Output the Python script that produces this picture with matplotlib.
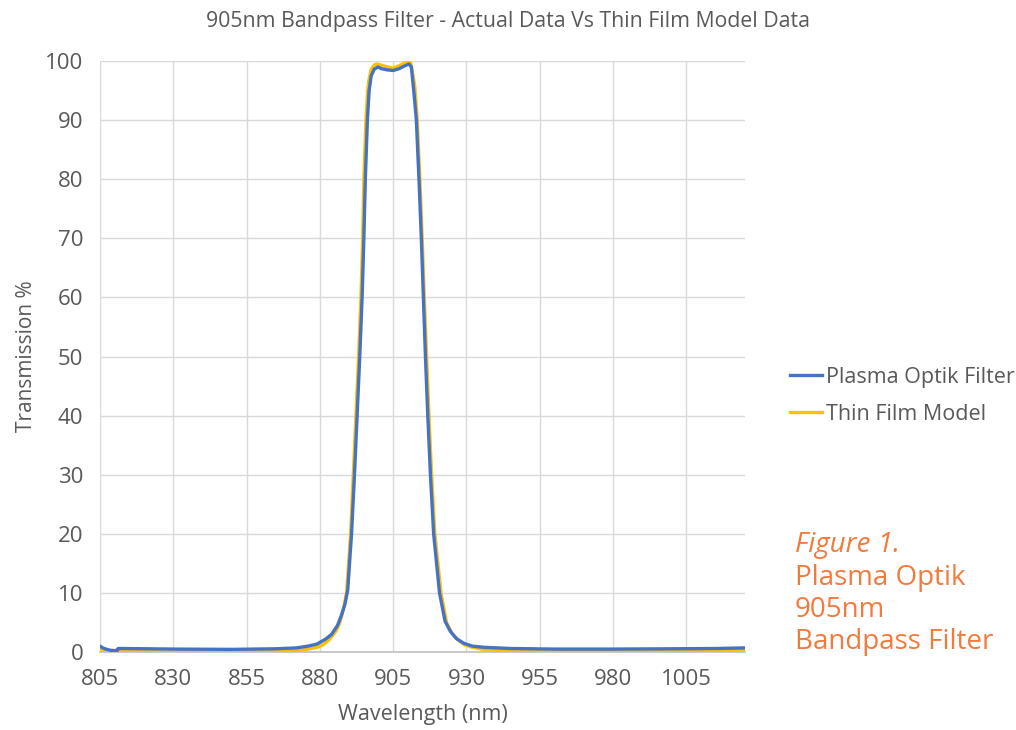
import numpy as np
import matplotlib
matplotlib.use("Agg")
import matplotlib.pyplot as plt

plt.rcParams['font.family'] = ['Open Sans', 'DejaVu Sans']

# 测量数据 (Plasma Optik Filter)
wl_filter = [805, 806, 807, 808.5, 810, 811, 811.2, 812, 830, 850, 865, 872, 876, 879,
             882, 884, 886, 887.2, 888.5, 889.5, 890.8, 891.8, 892.7, 893.6, 894.4,
             895.0, 895.5, 896.2, 896.8, 897.5, 898.5, 899.8, 901, 903, 905, 907, 909,
             910.4, 911.2, 911.6, 912.2, 912.9, 913.8, 914.6, 915.3, 916.0, 916.8,
             917.7, 918.8, 920.8, 922.7, 924.5, 926.5, 929, 932, 936, 945, 960, 980,
             1000, 1015, 1025]
t_filter = [1.0, 0.7, 0.5, 0.3, 0.25, 0.3, 0.6, 0.6, 0.5, 0.45, 0.55, 0.7, 1.0, 1.35,
            2.2, 3.0, 4.5, 6, 8, 10.5, 20, 30, 40, 50, 60,
            70, 80, 90, 95, 97.5, 98.6, 99.0, 98.7, 98.5, 98.4, 98.7, 99.2,
            99.5, 99.0, 97, 94, 90, 80, 70, 60, 50, 40,
            30, 20, 10, 5.2, 3.5, 2.3, 1.5, 1.0, 0.8, 0.6, 0.5, 0.5,
            0.55, 0.6, 0.7]

# 薄膜模型数据 (Thin Film Model)
wl_model = [805, 808, 812, 820, 840, 860, 870, 875, 879, 881, 883, 885.7, 886.8, 888,
            889.1, 890.5, 891.4, 892.3, 893.2, 894.0, 894.6, 895.0, 895.7, 896.3,
            896.8, 897.5, 898.5, 899.3, 901, 903, 905, 907, 909, 910.1, 911, 911.8,
            912.4, 913.2, 914.1, 914.9, 915.6, 916.4, 917.2, 918.1, 919.2, 921.3,
            923.2, 925, 927.2, 929.5, 932, 935, 940, 950, 970, 990, 1005, 1015, 1025]
t_model = [0.5, 0.25, 0.1, 0.05, 0.0, 0.05, 0.15, 0.4, 0.8, 1.2, 2.0, 3.7, 5.0, 7.2,
           10, 20, 30, 40, 50, 60, 70, 80, 90, 95,
           97, 98.6, 99.3, 99.5, 99.3, 99.0, 98.8, 99.2, 99.7, 100, 99.6, 97.5,
           95.6, 90, 80, 70, 60, 50, 40, 30, 20, 10,
           5, 3.2, 2.0, 1.2, 0.8, 0.5, 0.3, 0.15, 0.1, 0.1, 0.15, 0.25, 0.35]

x_ticks = [805, 830, 855, 880, 905, 930, 955, 980, 1005]
y_ticks = [0, 10, 20, 30, 40, 50, 60, 70, 80, 90, 100]

gray = '#595959'
fig = plt.figure(figsize=(10.16, 7.3), dpi=100)
ax = fig.add_axes([0.0984, 0.1068, 0.6349, 0.8096])

ax.plot(wl_filter, t_filter, color='#4472C4', lw=2.4, label='Plasma Optik Filter', zorder=3)
ax.plot(wl_model, t_model, color='#FFC000', lw=2.4, label='Thin Film Model', zorder=2)

ax.set_xlim(805, 1025)
ax.set_ylim(0, 100)
ax.set_xticks(x_ticks)
ax.set_yticks(y_ticks)
ax.grid(True, color='#D9D9D9', lw=1)
ax.set_axisbelow(True)
for s in ['top', 'right', 'left']:
    ax.spines[s].set_visible(False)
ax.spines['bottom'].set_color('#BFBFBF')
ax.spines['bottom'].set_linewidth(1.2)
ax.tick_params(length=0, labelsize=16, labelcolor=gray)
ax.tick_params(axis='x', pad=12)
ax.tick_params(axis='y', pad=12)

ax.set_xlabel('Wavelength (nm)', fontsize=15.5, color=gray, labelpad=10)
ax.set_ylabel('Transmission %', fontsize=15, color=gray, labelpad=6)
fig.text(0.5, 0.97, '905nm Bandpass Filter - Actual Data Vs Thin Film Model Data',
         ha='center', va='center', fontsize=15.3, color=gray)

leg = fig.legend(loc='center left', bbox_to_anchor=(0.758, 0.458), frameon=False,
                 fontsize=15.5, handlelength=1.5, handletextpad=0.2, labelspacing=0.75)
for t in leg.get_texts():
    t.set_color(gray)

orange = '#F47A3B'
fig.text(0.782, 0.2534, 'Figure 1.', fontsize=20, color=orange, style='italic', va='center')
fig.text(0.782, 0.1644, 'Plasma Optik\n905nm\nBandpass Filter', fontsize=20, color=orange,
         va='center', linespacing=1.18)

fig.savefig('out.png', dpi=100)
